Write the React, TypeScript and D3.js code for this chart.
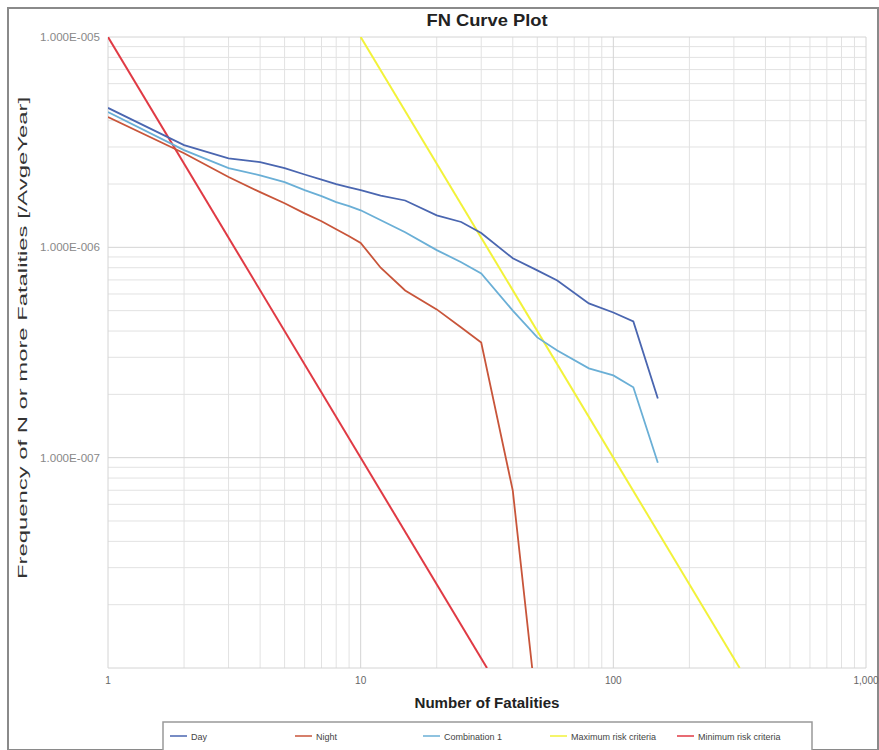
import React from "react";
import * as d3 from "d3";

const dayN = [1, 2, 3, 4, 5, 6, 7, 8, 9, 10, 12, 15, 20, 25, 30, 40, 50, 60, 80, 100, 120, 150];
const dayF = [4.6e-6, 3.06e-6, 2.65e-6, 2.54e-6, 2.38e-6, 2.22e-6, 2.1e-6, 2.0e-6, 1.93e-6, 1.87e-6, 1.76e-6, 1.67e-6, 1.42e-6, 1.32e-6, 1.17e-6, 8.87e-7, 7.77e-7, 6.96e-7, 5.41e-7, 4.9e-7, 4.44e-7, 1.91e-7];

const combN = [1, 2, 3, 4, 5, 6, 7, 8, 9, 10, 15, 20, 25, 30, 40, 50, 60, 80, 100, 120, 150];
const combF = [4.4e-6, 2.9e-6, 2.38e-6, 2.2e-6, 2.04e-6, 1.87e-6, 1.75e-6, 1.64e-6, 1.57e-6, 1.5e-6, 1.18e-6, 9.7e-7, 8.5e-7, 7.52e-7, 5.0e-7, 3.73e-7, 3.23e-7, 2.66e-7, 2.46e-7, 2.16e-7, 9.46e-8];

const nightN = [1, 2, 3, 4, 5, 6, 7, 8, 9, 10, 12, 15, 20, 25, 30, 40, 50];
const nightF = [4.16e-6, 2.8e-6, 2.16e-6, 1.83e-6, 1.62e-6, 1.45e-6, 1.33e-6, 1.22e-6, 1.13e-6, 1.05e-6, 8.0e-7, 6.24e-7, 5.07e-7, 4.16e-7, 3.53e-7, 6.97e-8, 6.0e-9];

const maxN = [10, 316.2];
const maxF = [1e-5, 1e-8];
const minN = [1, 31.62];
const minF = [1e-5, 1e-8];

const xTickVals = [1, 10, 100, 1000];
const xTickLabels = ["1", "10", "100", "1,000"];
const yTickVals = [1e-5, 1e-6, 1e-7];
const yTickLabels = ["1.000E-005", "1.000E-006", "1.000E-007"];

const seriesNames = ["Day", "Night", "Combination 1", "Maximum risk criteria", "Minimum risk criteria"];
const seriesColors = ["#4a66b0", "#c8553a", "#6aafd6", "#f2f23a", "#e03a44"];

export default function App() {
  const W = 879, H = 750;
  const L = 108, R = 866, T = 37, B = 668;
  const x = d3.scaleLog().domain([1, 1000]).range([L, R]);
  const y = d3.scaleLog().domain([1e-8, 1e-5]).range([B, T]);
  const line = d3.line<[number, number]>().x(d => x(d[0])).y(d => y(d[1]));

  const series: [number[], number[]][] = [
    [dayN, dayF], [nightN, nightF], [combN, combF], [maxN, maxF], [minN, minF],
  ];
  const order = [3, 4, 1, 2, 0];

  const xMinor: number[] = [];
  for (let e = 0; e < 3; e++) for (let k = 2; k <= 9; k++) xMinor.push(k * Math.pow(10, e));
  const yMinor: number[] = [];
  for (let e = -8; e < -5; e++) for (let k = 2; k <= 9; k++) yMinor.push(k * Math.pow(10, e));

  const legendX = [170, 295, 423, 550, 677];
  const font = "Liberation Sans, Arial, sans-serif";

  return (
    <svg width={W} height={H} style={{ position: "absolute", left: 0, top: 0, background: "#fff" }} fontFamily={font}>
      <rect x={8} y={8} width={W - 9} height={H - 8} fill="#fff" stroke="#8a8a8a" strokeWidth={2} />
      <text x={(L + R) / 2} y={26} textAnchor="middle" fontSize={17} fontWeight="bold" fill="#222" textLength={121} lengthAdjust="spacingAndGlyphs">FN Curve Plot</text>
      <defs>
        <clipPath id="plot"><rect x={L} y={T} width={R - L} height={B - T} /></clipPath>
      </defs>
      <g stroke="#e2e2e2" strokeWidth={1}>
        {xMinor.map((v, i) => <line key={"xm" + i} x1={x(v)} x2={x(v)} y1={T} y2={B} />)}
        {yMinor.map((v, i) => <line key={"ym" + i} x1={L} x2={R} y1={y(v)} y2={y(v)} />)}
      </g>
      <g stroke="#d4d4d4" strokeWidth={1}>
        {xTickVals.map((v, i) => <line key={"xM" + i} x1={x(v)} x2={x(v)} y1={T} y2={B} />)}
        {[1e-8, ...yTickVals].map((v, i) => <line key={"yM" + i} x1={L} x2={R} y1={y(v)} y2={y(v)} />)}
      </g>
      <g clipPath="url(#plot)" fill="none">
        {order.map(i => {
          const [ns, fs] = series[i];
          const pts = ns.map((n, j) => [n, fs[j]] as [number, number]);
          return <path key={i} d={line(pts) || ""} stroke={seriesColors[i]} strokeWidth={i >= 3 ? 2 : 1.8} />;
        })}
      </g>
      {xTickVals.map((v, i) => (
        <text key={"xt" + i} x={x(v)} y={684} textAnchor="middle" fontSize={10} fill="#666">{xTickLabels[i]}</text>
      ))}
      {yTickVals.map((v, i) => (
        <text key={"yt" + i} x={100} y={y(v) + 4} textAnchor="end" fontSize={10} fill="#888" textLength={60} lengthAdjust="spacingAndGlyphs">{yTickLabels[i]}</text>
      ))}
      <text x={(L + R) / 2} y={708} textAnchor="middle" fontSize={14} fontWeight="bold" fill="#222" textLength={145} lengthAdjust="spacingAndGlyphs">Number of Fatalities</text>
      <text transform={`translate(27,338) rotate(-90)`} textAnchor="middle" fontSize={13} fill="#333" textLength={482} lengthAdjust="spacingAndGlyphs">Frequency of N or more Fatalities [/AvgeYear]</text>
      <rect x={163} y={722} width={649} height={30} fill="#fff" stroke="#999" strokeWidth={1.5} />
      {seriesNames.map((s, i) => (
        <g key={"lg" + i}>
          <line x1={legendX[i]} x2={legendX[i] + 17} y1={736} y2={736} stroke={seriesColors[i]} strokeWidth={1.5} />
          <text x={legendX[i] + 21} y={739.5} fontSize={9} fill="#444">{s}</text>
        </g>
      ))}
    </svg>
  );
}
